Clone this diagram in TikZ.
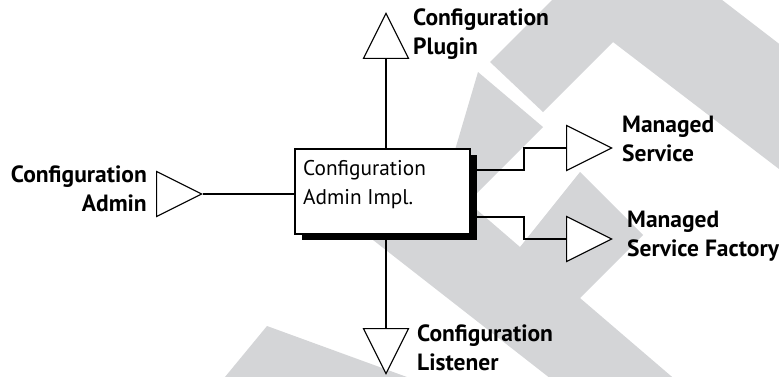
\documentclass[tikz,border=0pt]{standalone}
\usepackage{fontspec}
\setmainfont{PT Sans}
\usepackage{tikz}
\usetikzlibrary{shapes.geometric,shadows}
\definecolor{markgray}{RGB}{212,213,215}

\begin{document}
\begin{tikzpicture}
	[x=1pt,y=-1pt,
		port/.style={isosceles triangle,isosceles triangle stretches,minimum width=45pt,minimum height=45pt,inner sep=0pt,draw,fill=white,line width=1.1pt},
		impl box/.style={draw,fill=white,line width=1.3pt,minimum width=175pt,minimum height=85pt,inner sep=0pt,drop shadow={shadow xshift=7pt,shadow yshift=-6pt,fill=black,opacity=1}},
		port text/.style={font={\fontsize{23.5}{29}\selectfont\bfseries},inner sep=0pt},
		wire/.style={line width=1.8pt}]

	\useasboundingbox (0,0) rectangle (779,376);
	\begin{scope}
		\clip (0,0) rectangle (779,376);
		\fill[markgray] (490,62) -- (626,-74) -- (830,83) -- (830,208) -- (613,42) -- (543,112) -- cycle;
		\fill[markgray] (478,72) -- (543,127) -- (470,200) -- (455,150) -- cycle;
		\fill[markgray] (300,183) -- (578,400) -- (699,400) -- (580,298) -- (643,235) -- (580,172) -- (520,247) -- (440,178) -- cycle;
		\fill[markgray] (267,326) -- (206,400) -- (470,400) -- cycle;
	\end{scope}

	\node[impl box] (impl) at (382.5,191.5) {};
	\node[anchor=north west,align=left,inner sep=0pt,font={\fontsize{21.3}{29}\selectfont}] (impl text) at (303,160) {Configuration\\Admin Impl.};

	\node[port,anchor=apex,rotate=90]  (plugin)   at (386,12)  {};
	\node[port,anchor=apex]            (admin)    at (203,194) {};
	\node[port,anchor=apex]            (ms)       at (613,148) {};
	\node[port,anchor=apex]            (msf)      at (613,239) {};
	\node[port,anchor=apex,rotate=-90] (listener) at (386,375) {};

	\draw[wire] (plugin.lower side) -- (plugin.lower side |- impl.north);
	\draw[wire] (admin.apex) -- (admin.apex -| impl.west);
	\draw[wire] ([yshift=21.5pt]impl.east) -- ++(53,0) |- (ms.lower side);
	\draw[wire] ([yshift=-25.5pt]impl.east) -- ++(53,0) |- (msf.lower side);
	\draw[wire] (listener.lower side) -- (listener.lower side |- impl.south);

	\node[port text,anchor=north west,align=left]  (plugin label)   at (413,9)   {Configuration\\Plugin};
	\node[port text,anchor=north east,align=right] (admin label)    at (147,166) {Configuration\\Admin};
	\node[port text,anchor=north west,align=left]  (ms label)       at (622,116) {Managed\\Service};
	\node[port text,anchor=north west,align=left]  (msf label)      at (627,211) {Managed\\Service Factory};
	\node[port text,anchor=north west,align=left]  (listener label) at (417,325) {Configuration\\Listener};

\end{tikzpicture}
\end{document}
